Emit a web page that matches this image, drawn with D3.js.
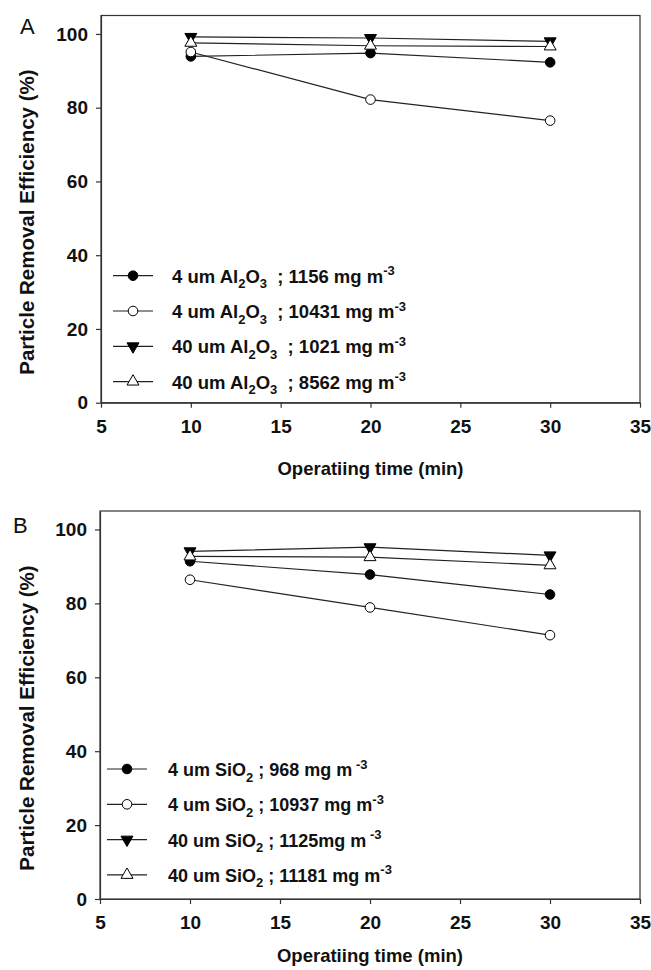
<!DOCTYPE html>
<html>
<head>
<meta charset="utf-8">
<script src="https://cdn.jsdelivr.net/npm/d3@7"></script>
<style>
  html, body { margin: 0; padding: 0; background: #fff; }
  svg text { font-family: "Liberation Sans", Arial, sans-serif; }
</style>
</head>
<body>
<div id="chart"></div>
<script>
// ==== data ====
const times = [10, 20, 30]
const xTicks = [5, 10, 15, 20, 25, 30, 35]
const yTicks = [0, 20, 40, 60, 80, 100]

// panel A: Al2O3
const al4Low = [93.9, 94.8, 92.3]     // 4 um ; 1156 mg m-3
const al4High = [95.1, 82.2, 76.5]    // 4 um ; 10431 mg m-3
const al40Low = [99.2, 98.9, 98.0]    // 40 um ; 1021 mg m-3
const al40High = [97.6, 96.8, 96.6]   // 40 um ; 8562 mg m-3

// panel B: SiO2
const si4Low = [91.4, 87.8, 82.4]     // 4 um ; 968 mg m-3
const si4High = [86.4, 78.9, 71.4]    // 4 um ; 10937 mg m-3
const si40Low = [94.1, 95.2, 93.0]    // 40 um ; 1125 mg m-3
const si40High = [92.7, 92.5, 90.3]   // 40 um ; 11181 mg m-3

// legend texts: [text, 'n'|'sub'|'sup']
const legendA = [
  [['4 um Al', 'n'], ['2', 'sub'], ['O', 'n'], ['3', 'sub'], ['  ; 1156 mg m', 'n'], ['-3', 'sup']],
  [['4 um Al', 'n'], ['2', 'sub'], ['O', 'n'], ['3', 'sub'], ['  ; 10431 mg m', 'n'], ['-3', 'sup']],
  [['40 um Al', 'n'], ['2', 'sub'], ['O', 'n'], ['3', 'sub'], ['  ; 1021 mg m', 'n'], ['-3', 'sup']],
  [['40 um Al', 'n'], ['2', 'sub'], ['O', 'n'], ['3', 'sub'], ['  ; 8562 mg m', 'n'], ['-3', 'sup']],
]
const legendB = [
  [['4 um SiO', 'n'], ['2', 'sub'], [' ; 968 mg m', 'n'], [' -3', 'sup']],
  [['4 um SiO', 'n'], ['2', 'sub'], [' ; 10937 mg m', 'n'], ['-3', 'sup']],
  [['40 um SiO', 'n'], ['2', 'sub'], [' ; 1125mg m', 'n'], [' -3', 'sup']],
  [['40 um SiO', 'n'], ['2', 'sub'], [' ; 11181 mg m', 'n'], ['-3', 'sup']],
]

// marker styles in legend order: filled circle, open circle, filled down-triangle, open up-triangle
const markerKinds = ['circleFilled', 'circleOpen', 'triDownFilled', 'triUpOpen']

// ==== layout ====
const W = 651, H = 970
const FONT = '"Liberation Sans", Arial, sans-serif'
const panels = [
  {
    label: 'A', series: [al4Low, al4High, al40Low, al40High], legend: legendA,
    left: 101, right: 640, top: 15.5, bottom: 402.7,
    labelX: 20, labelY: 34, titleY: 475,
    legX1: 113, legX2: 153, legTextX: 172, legY0: 275.7, legFont: 18.5,
  },
  {
    label: 'B', series: [si4Low, si4High, si40Low, si40High], legend: legendB,
    left: 100, right: 640, top: 511, bottom: 899,
    labelX: 13, labelY: 533, titleY: 962,
    legX1: 107, legX2: 147, legTextX: 168, legY0: 769, legFont: 18,
  },
]
const legDy = 35.3

const svg = d3.select('#chart').append('svg')
  .attr('width', W).attr('height', H)
  .attr('viewBox', `0 0 ${W} ${H}`)

function drawMarker(g, kind, x, y) {
  if (kind === 'circleFilled' || kind === 'circleOpen') {
    g.append('circle').attr('cx', x).attr('cy', y).attr('r', 4.8)
      .attr('fill', kind === 'circleFilled' ? '#000' : '#fff')
      .attr('stroke', '#000').attr('stroke-width', 1)
  } else {
    const down = kind === 'triDownFilled'
    g.append('path')
      .attr('d', d3.symbol(d3.symbolTriangle, 62)())
      .attr('transform', `translate(${x},${y}) rotate(${down ? 180 : 0})`)
      .attr('fill', down ? '#000' : '#fff')
      .attr('stroke', '#000').attr('stroke-width', 1)
  }
}

panels.forEach(p => {
  const x = d3.scaleLinear().domain([5, 35]).range([p.left, p.right])
  const y = d3.scaleLinear().domain([0, 105]).range([p.bottom, p.top])
  const g = svg.append('g')

  // frame
  g.append('rect')
    .attr('x', p.left).attr('y', p.top)
    .attr('width', p.right - p.left).attr('height', p.bottom - p.top)
    .attr('fill', 'none').attr('stroke', '#333').attr('stroke-width', 1.2)

  // axes
  const xAxis = g.append('g')
    .attr('transform', `translate(0,${p.bottom})`)
    .call(d3.axisBottom(x).tickValues(xTicks).tickSize(5).tickSizeOuter(0).tickPadding(12))
  const yAxis = g.append('g')
    .attr('transform', `translate(${p.left},0)`)
    .call(d3.axisLeft(y).tickValues(yTicks).tickSize(5).tickSizeOuter(0).tickPadding(8))
  ;[xAxis, yAxis].forEach(a => {
    a.select('.domain').attr('stroke', '#333').attr('stroke-width', 1.2)
    a.selectAll('.tick line').attr('stroke', '#333').attr('stroke-width', 1.2)
    a.selectAll('.tick text')
      .attr('font-family', FONT).attr('font-size', 19).attr('font-weight', 'bold')
      .attr('fill', '#111')
  })

  // axis titles
  g.append('text')
    .attr('x', (p.left + p.right) / 2).attr('y', p.titleY)
    .attr('text-anchor', 'middle')
    .attr('font-family', FONT).attr('font-size', 18.5).attr('font-weight', 'bold')
    .attr('fill', '#111')
    .text('Operatiing time (min)')
  g.append('text')
    .attr('transform', `translate(34,${(p.top + p.bottom) / 2 + 13}) rotate(-90)`)
    .attr('text-anchor', 'middle')
    .attr('font-family', FONT).attr('font-size', 20.5).attr('font-weight', 'bold')
    .attr('fill', '#111')
    .text('Particle Removal Efficiency (%)')

  // panel letter
  g.append('text')
    .attr('x', p.labelX).attr('y', p.labelY)
    .attr('font-family', FONT).attr('font-size', 22)
    .attr('fill', '#111')
    .text(p.label)

  // series lines then markers
  const line = d3.line().x((d, i) => x(times[i])).y(d => y(d))
  p.series.forEach(vals => {
    g.append('path').datum(vals)
      .attr('d', line)
      .attr('fill', 'none').attr('stroke', '#222').attr('stroke-width', 1.2)
  })
  p.series.forEach((vals, si) => {
    vals.forEach((v, i) => drawMarker(g, markerKinds[si], x(times[i]), y(v)))
  })

  // legend
  p.legend.forEach((parts, li) => {
    const ly = p.legY0 + li * legDy
    g.append('line')
      .attr('x1', p.legX1).attr('x2', p.legX2).attr('y1', ly).attr('y2', ly)
      .attr('stroke', '#222').attr('stroke-width', 1.2)
    drawMarker(g, markerKinds[li], (p.legX1 + p.legX2) / 2, ly)

    const t = g.append('text')
      .attr('x', p.legTextX).attr('y', ly + 7)
      .attr('font-family', FONT).attr('font-size', p.legFont).attr('font-weight', 'bold')
      .attr('fill', '#111')
      .style('white-space', 'pre')
    let shift = 0
    parts.forEach(([s, kind]) => {
      const target = kind === 'sub' ? 5.5 : kind === 'sup' ? -7.5 : 0
      t.append('tspan')
        .attr('dy', target - shift)
        .attr('font-size', kind === 'n' ? p.legFont : 13)
        .text(s)
      shift = target
    })
  })
})
</script>
</body>
</html>
